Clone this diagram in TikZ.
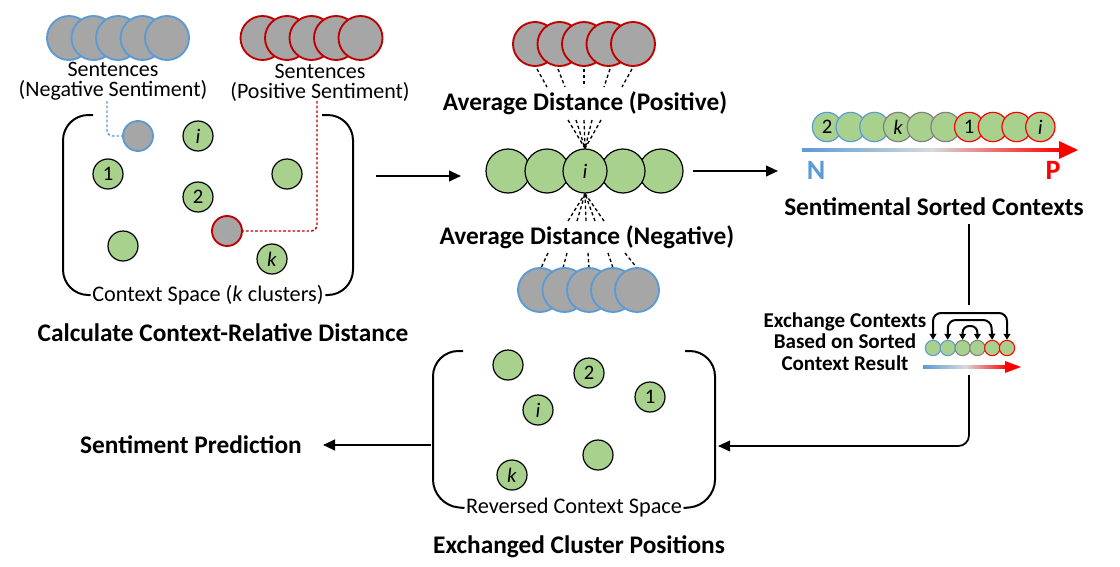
\documentclass[tikz,border=0pt]{standalone}
\usepackage{fontspec}
\setmainfont{Carlito}
\usetikzlibrary{arrows.meta,calc}
\definecolor{cgreen}{HTML}{A9D18E}
\definecolor{cgray}{HTML}{A6A6A6}
\definecolor{cblue}{HTML}{5B9BD5}
\definecolor{cred}{HTML}{C00000}
\definecolor{bred}{HTML}{FF0000}
\definecolor{cgrayline}{HTML}{808080}
\begin{document}
\begin{tikzpicture}[x=0.75pt,y=-0.75pt,
  ctx/.style={circle,draw=black,fill=cgreen,line width=0.9pt,minimum size=22.5pt,inner sep=0pt,font=\fontsize{15.5}{15.5}\selectfont},
  bigctx/.style={circle,draw=black,fill=cgreen,line width=0.9pt,minimum size=33pt,inner sep=0pt,font=\fontsize{15.5}{15.5}\selectfont},
  sentb/.style={circle,draw=cblue,fill=cgray,line width=1.4pt,minimum size=33pt,inner sep=0pt},
  sentr/.style={circle,draw=cred,fill=cgray,line width=1.4pt,minimum size=33pt,inner sep=0pt},
  sortc/.style={circle,fill=cgreen,line width=0.9pt,minimum size=22pt,inner sep=0pt,font=\fontsize{15.5}{15.5}\selectfont},
  tinyc/.style={circle,fill=cgreen,line width=0.8pt,minimum size=11.5pt,inner sep=0pt},
  title/.style={font=\fontsize{19}{19}\bfseries\selectfont,inner sep=0pt},
  lbl/.style={font=\fontsize{16.7}{16.7}\selectfont,inner sep=1pt},
  bracket/.style={line width=1.5pt,rounded corners=19pt},
  flow/.style={line width=1.6pt,-{Triangle[length=9pt,width=8pt]}},
  fan/.style={line width=1pt,dash pattern=on 2.5pt off 2pt},
  link/.style={line width=1.1pt,dash pattern=on 2pt off 1.5pt,rounded corners=4pt},
  swap/.style={line width=1.5pt,rounded corners=6pt,{Triangle[length=4.5pt,width=5pt]}-{Triangle[length=4.5pt,width=5pt]}}
]
\useasboundingbox (0,0) rectangle (1120,567);

% ---------- top-left: sentence sets ----------
\foreach \x [count=\n] in {69,93.5,118,142.5,167}
  \node[sentb] (nb\n) at (\x,38) {};
\foreach \x [count=\n] in {262.5,287,311.5,336,360.5}
  \node[sentr] (pr\n) at (\x,38) {};
\node[lbl,align=center,font=\fontsize{16.5}{15}\selectfont] (nl) at (113,81.5) {Sentences\\(Negative Sentiment)};
\node[lbl,align=center,font=\fontsize{16.5}{15}\selectfont] (pl) at (320,82.5) {Sentences\\(Positive Sentiment)};

% ---------- context space ----------
\node[lbl] (cs) at (208,295) {Context Space (\textit{k} clusters)};
\draw[bracket] (93,115) -| (63,295) -- (cs.west);
\draw[bracket] (322,115) -| (353,295) -- (cs.east);

\node[circle,draw=cblue,fill=cgray,line width=1.4pt,minimum size=22.5pt,inner sep=0pt] (nc) at (138,136) {};
\node[circle,draw=cred,fill=cgray,line width=1.4pt,minimum size=22.5pt,inner sep=0pt] (pc) at (227,231) {};
\node[ctx] (ci) at (198,136) {\textit{i}};
\node[ctx] (c1) at (108,174) {1};
\node[ctx] (cu1) at (287,174) {};
\node[ctx] (c2) at (198,197) {2};
\node[ctx] (cu2) at (123,246) {};
\node[ctx] (ck) at (272,259) {\textit{k}};

\coordinate (nlink) at (107,101);
\coordinate (plink) at (317,101);
\draw[link,cblue] (nlink) |- (nc.west);
\draw[link,cred] (plink) |- (pc.east);

\node[title] (t1) at (223,333) {Calculate Context-Relative Distance};

% ---------- arrow 1 ----------
\coordinate (a1s) at (376,176);
\coordinate (a1e) at (461,176);
\draw[flow] (a1s) -- (a1e);

% ---------- middle ----------
\foreach \x [count=\n] in {535,559.5,584,608.5,633}
  \node[sentr] (mr\n) at (\x,44) {};
\node[title] (adp) at (585,103) {Average Distance (Positive)};
\foreach \a/\b in {537/547,558/565,584/584,610/604,632/622}
  \draw[fan] (\a,69) -- (\b,87);

\node[bigctx] (m1) at (508,171) {};
\node[bigctx] (m2) at (547,171) {};
\node[bigctx] (m5) at (661,171) {};
\node[bigctx] (m4) at (623,171) {};
\node[bigctx] (mi) at (585,171) {\textit{i}};

\foreach \a in {568,576,592,601}
  \draw[fan] (\a,120) -- (mi.north);
\draw[fan,-{Stealth[length=3.5pt,width=3.5pt]}] (584,120) -- (mi.north);
\foreach \a in {568,577,595,604}
  \draw[fan] (\a,221) -- (mi.south);
\draw[fan,-{Stealth[length=3.5pt,width=3.5pt]}] (586,221) -- (mi.south);

\node[title] (adn) at (587,237) {Average Distance (Negative)};
\foreach \a/\b in {548/541,567/563,588/589,608/613,625/637}
  \draw[fan] (\a,253) -- (\b,268);
\foreach \x [count=\n] in {540,564.5,589,613,637}
  \node[sentb] (mb\n) at (\x,290) {};

% ---------- arrow 2 ----------
\coordinate (a2s) at (693,171);
\coordinate (a2e) at (778,171);
\draw[flow] (a2s) -- (a2e);

% ---------- sorted contexts ----------
\foreach \c/\t [count=\n from 0] in {cblue/2,cblue/,cblue/,cgrayline/\textit{k},cgrayline/,cgrayline/,bred/1,bred/,bred/,bred/\textit{i}}
  \node[sortc,draw=\c] (s\n) at ({827+23.7*\n},127) {\t};
\shade[left color=cblue,right color=bred,middle color=gray!30] (802,148.5) rectangle (1062,151.5);
\fill[bred] (1059,141) -- (1078,150) -- (1059,159) -- cycle;
\node[font=\fontsize{21}{21}\bfseries\selectfont,text=cblue,inner sep=0pt] (nN) at (816,170) {N};
\node[font=\fontsize{21}{21}\bfseries\selectfont,text=bred,inner sep=0pt] (nP) at (1053,170) {P};
\node[title] (t3) at (934,207) {Sentimental Sorted Contexts};

% ---------- exchange icon ----------
\foreach \c [count=\n from 0] in {cblue,cblue,cgrayline,cgrayline,bred,bred}
  \node[tinyc,draw=\c] (e\n) at ({933+14.8*\n},348) {};
\draw[swap] (e0.north) -- (933,313) -- (1007,313) -- (e5.north);
\draw[swap] (e1.north) -- (947.8,320) -- (991.2,320) -- (e4.north);
\draw[swap,rounded corners=5pt] (e2.north) -- (962.6,326) -- (977.4,326) -- (e3.north);
\shade[left color=cblue,right color=bred,middle color=gray!30] (923,365.5) rectangle (1008,368.5);
\fill[bred] (1005,361) -- (1021,367) -- (1005,373) -- cycle;
\node[font=\fontsize{15.8}{16}\bfseries\selectfont,align=center,inner sep=0pt] (ex) at (845,341.5) {Exchange Contexts\\Based on Sorted\\Context Result};

\coordinate (v1) at (969,224);
\coordinate (v2) at (969,305);
\coordinate (v3) at (969,375);
\coordinate (rin) at (718,446);
\draw[line width=1.3pt] (v1) -- (v2);
\draw[line width=1.3pt,rounded corners=8pt,-{Triangle[length=9pt,width=8pt]}] (v3) |- (rin);

% ---------- reversed context space ----------
\node[lbl] (rs) at (574,508) {Reversed Context Space};
\draw[bracket] (463,351) -| (433,505) -- (rs.west);
\draw[bracket] (685,351) -| (715,505) -- (rs.east);
\node[ctx] (ru1) at (508,365) {};
\node[ctx] (r2) at (589,373) {2};
\node[ctx] (r1) at (650,397) {1};
\node[ctx] (ri) at (538,410) {\textit{i}};
\node[ctx] (ru2) at (598,455) {};
\node[ctx] (rk) at (512,475) {\textit{k}};
\node[title] (t4) at (579,547) {Exchanged Cluster Positions};

% ---------- output ----------
\coordinate (a3s) at (431,445);
\coordinate (a3e) at (323,445);
\draw[flow] (a3s) -- (a3e);
\node[title] (sp) at (191,445) {Sentiment Prediction};
\end{tikzpicture}
\end{document}
